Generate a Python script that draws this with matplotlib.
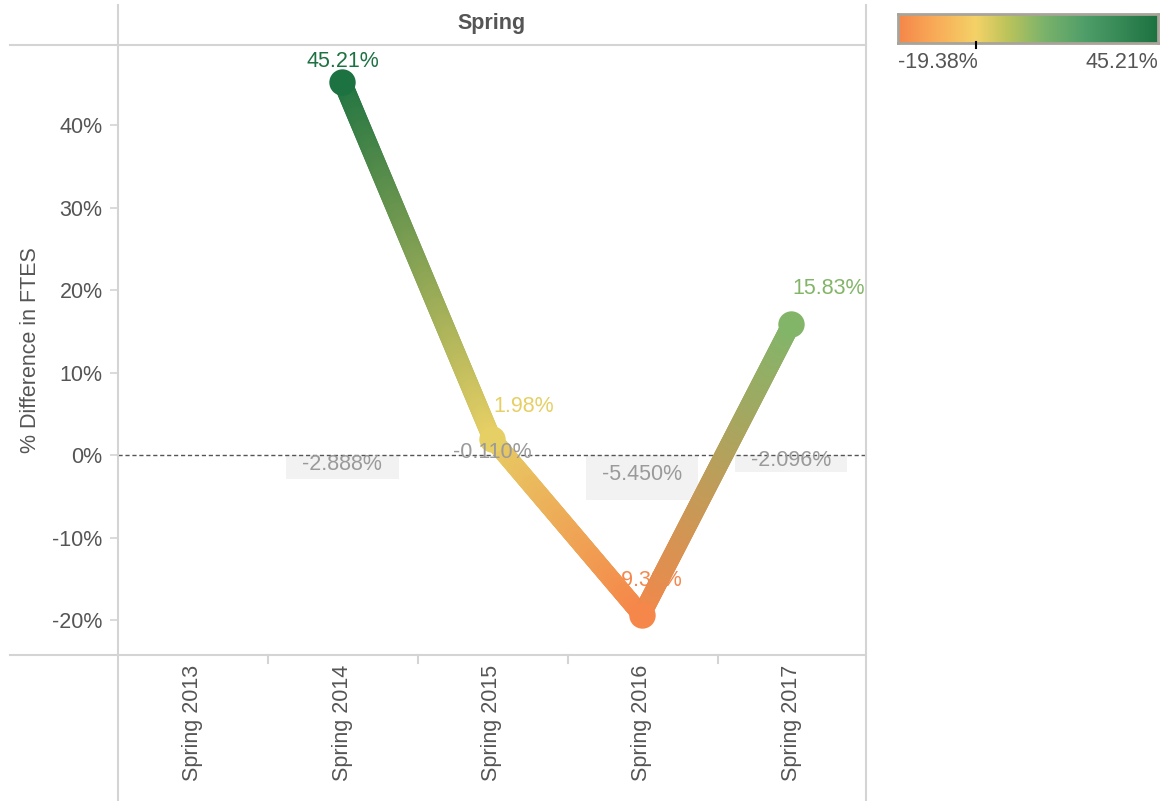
import numpy as np
import matplotlib.pyplot as plt
from matplotlib.collections import LineCollection
from matplotlib.colors import LinearSegmentedColormap, Normalize, to_rgba
from matplotlib.lines import Line2D

plt.rcParams['font.family'] = ['Liberation Sans', 'DejaVu Sans']

# data
categories = ['Spring 2013', 'Spring 2014', 'Spring 2015', 'Spring 2016', 'Spring 2017']
pct_diff = [np.nan, 45.21, 1.98, -19.38, 15.83]
bar_vals = [np.nan, -2.888, -0.110, -5.450, -2.096]
y_ticks = [-20, -10, 0, 10, 20, 30, 40]

W, H = 1163, 801
fig = plt.figure(figsize=(W / 100, H / 100), dpi=100)


def px(x0, y0, x1, y1):
    # pixel box (top-left origin) -> figure fraction rect
    return [x0 / W, 1 - y1 / H, (x1 - x0) / W, (y1 - y0) / H]


def fline(x0, y0, x1, y1, color='#d4d4d4', lw=1.5):
    fig.add_artist(Line2D([x0 / W, x1 / W], [1 - y0 / H, 1 - y1 / H],
                          transform=fig.transFigure, color=color, lw=lw))


cmap = LinearSegmentedColormap.from_list('og', [
    (0.0, '#f5874a'), (0.15, '#f9ad58'), (0.3, '#f4d268'), (0.42, '#bcc45a'),
    (0.56, '#7cb36b'), (0.72, '#4f9e69'), (1.0, '#1d7241')])
vals = [v for v in pct_diff if not np.isnan(v)]
vmin, vmax = min(vals), max(vals)
norm = Normalize(vmin, vmax)

ax = fig.add_axes(px(118, 45, 866, 655))
x = np.arange(len(categories))

# light gray bars with labels (labels sit above the line)
ax.bar(x, bar_vals, width=0.75, color='#f2f2f2', zorder=1)
for xi, v in zip(x, bar_vals):
    if np.isnan(v):
        continue
    ax.text(xi, v / 2 + 0.35, f'{v:.3f}%', ha='center', va='center',
            fontsize=15.5, color='#9a9a9a', zorder=7)

ax.axhline(0, color='#555555', lw=1, ls=(0, (3, 2)), zorder=3)

# gradient line: colours blend between the two end-point colours
pts = [(xi, v) for xi, v in zip(x, pct_diff) if not np.isnan(v)]
segs, cols = [], []
for (xa, ya), (xb, yb) in zip(pts[:-1], pts[1:]):
    ca, cb = np.array(to_rgba(cmap(norm(ya)))), np.array(to_rgba(cmap(norm(yb))))
    t = np.linspace(0, 1, 150)
    xs = xa + (xb - xa) * t
    ys = ya + (yb - ya) * t
    for i in range(len(t) - 1):
        segs.append([(xs[i], ys[i]), (xs[i + 1], ys[i + 1])])
        tm = (t[i] + t[i + 1]) / 2
        cols.append(ca + (cb - ca) * tm)
lc = LineCollection(segs, colors=cols, linewidths=13.5, capstyle='round', zorder=4)
ax.add_collection(lc)

# label offsets in points (dx, dy, ha)
label_off = {1: (0, 15, 'center'), 2: (1, 23, 'left'),
             3: (0, 25, 'center'), 4: (27, 26, 'center')}
for xi, v in pts:
    c = cmap(norm(v))
    ax.plot(xi, v, 'o', ms=19, color=c, mec='none', zorder=5)
    dx, dy, ha = label_off[xi]
    ax.annotate(f'{v:.2f}%', (xi, v), xytext=(dx, dy), textcoords='offset points',
                ha=ha, va='center', fontsize=15.5, color=c, zorder=2)

ax.set_xlim(-0.5, 4.5)
ax.set_ylim(-24.24, 49.7)
ax.set_yticks(y_ticks)
ax.set_yticklabels([f'{t}%' for t in y_ticks], fontsize=15.5, color='#555555')
ax.tick_params(axis='y', length=6, color='#d4d4d4', width=1.2, pad=5)
ax.set_xticks([])
for s in ax.spines.values():
    s.set_visible(False)
ax.set_ylabel('% Difference in FTES', fontsize=15.5, color='#555555', labelpad=8)

# x category labels below
for xi, c in zip(x, categories):
    ax.text(xi, -0.016, c, transform=ax.get_xaxis_transform(), rotation=90,
            ha='center', va='top', fontsize=15.5, color='#555555')

# frame lines
fline(118, 5, 118, 801)
fline(866, 5, 866, 801)
fline(10, 45, 866, 45)
fline(10, 655, 866, 655)
for tx in [268, 418, 568, 718]:
    fline(tx, 655, tx, 663)
fig.text((118 + 866) / 2 / W, 1 - 24 / H, 'Spring', ha='center', va='center',
         fontsize=15.5, fontweight='bold', color='#555555')

# colour legend
cax = fig.add_axes(px(898, 14, 1158, 43))
cax.imshow(np.linspace(0, 1, 256)[None, :], aspect='auto', cmap=cmap, extent=(0, 1, 0, 1))
cax.set_xticks([])
cax.set_yticks([])
for s in cax.spines.values():
    s.set_color('#a9a499')
    s.set_linewidth(2)
z = norm(0)
fline(898 + 260 * z, 42, 898 + 260 * z, 48, color='black', lw=1.5)
fig.text(898 / W, 1 - 62 / H, f'{vmin:.2f}%', ha='left', va='center', fontsize=15.5, color='#555555')
fig.text(1158 / W, 1 - 62 / H, f'{vmax:.2f}%', ha='right', va='center', fontsize=15.5, color='#555555')

fig.savefig('out.png', dpi=100)
